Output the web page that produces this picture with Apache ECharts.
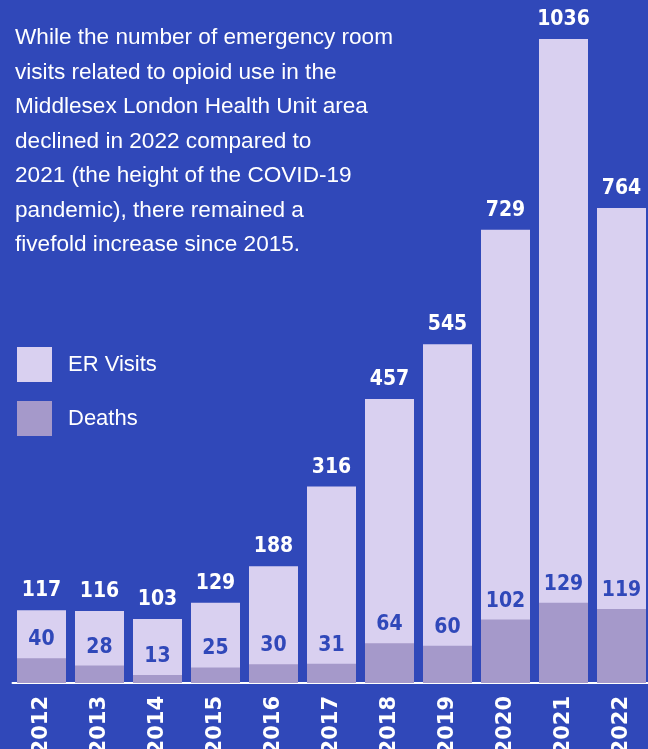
<!DOCTYPE html>
<html>
<head>
<meta charset="utf-8">
<script src="https://cdn.jsdelivr.net/npm/echarts@6/dist/echarts.min.js"></script>
<style>
  html, body { margin: 0; padding: 0; background: #3048b9; }
  #chart { width: 648px; height: 749px; }
</style>
</head>
<body>
<div id="chart"></div>
<script>
const years = ['2012', '2013', '2014', '2015', '2016', '2017', '2018', '2019', '2020', '2021', '2022'];
const erVisits = [117, 116, 103, 129, 188, 316, 457, 545, 729, 1036, 764];
const deaths = [40, 28, 13, 25, 30, 31, 64, 60, 102, 129, 119];

const intro = [
    'While the number of emergency room',
    'visits related to opioid use in the',
    'Middlesex London Health Unit area',
    'declined in 2022 compared to',
    '2021 (the height of the COVID-19',
    'pandemic), there remained a',
    'fivefold increase since 2015.',
];

const blue = '#3048b9';
const numFont = '"DejaVu Sans Condensed", sans-serif';
const textFont = '"Liberation Sans", Arial, sans-serif';

const chart = echarts.init(document.getElementById('chart'));

const option = {
    backgroundColor: blue,
    animation: false,
    title: {
        text: intro.join('\n'),
        left: 15,
        top: 21,
        padding: 0,
        textStyle: {
            color: '#ffffff',
            fontFamily: textFont,
            fontWeight: 'normal',
            fontSize: 22.6,
            lineHeight: 34.5,
        },
    },
    legend: {
        orient: 'vertical',
        left: 17,
        top: 347,
        padding: 0,
        itemWidth: 35,
        itemHeight: 35,
        itemGap: 19,
        icon: 'rect',
        data: ['ER Visits', 'Deaths'],
        textStyle: {
            color: '#ffffff',
            fontFamily: textFont,
            fontSize: 22,
            padding: [3, 0, 0, 11],
        },
    },
    grid: { left: 12.5, width: 638, top: 39, bottom: 66, outerBoundsMode: 'none', containLabel: false },
    xAxis: {
        type: 'category',
        data: years,
        axisTick: { show: false },
        axisLine: { lineStyle: { color: '#ffffff', width: 2 } },
        axisLabel: {
            rotate: 90,
            margin: 13,
            padding: [8, 0, 0, 0],
            color: '#ffffff',
            fontFamily: '"DejaVu Sans"',
            fontWeight: 'bold',
            fontSize: 21,
        },
    },
    yAxis: {
        type: 'value',
        min: 0,
        max: 1036,
        show: false,
        splitLine: { show: false },
    },
    series: [
        {
            name: 'ER Visits',
            type: 'bar',
            data: erVisits,
            barWidth: 49,
            itemStyle: { color: '#d9d0f0' },
            label: {
                show: true,
                position: 'top',
                distance: 9,
                color: '#ffffff',
                fontFamily: numFont,
                fontWeight: 'bold',
                fontSize: 21,
            },
        },
        {
            name: 'Deaths',
            type: 'bar',
            data: deaths,
            barWidth: 49,
            barGap: '-100%',
            itemStyle: { color: '#a599ca' },
            label: {
                show: true,
                position: 'top',
                distance: 8,
                color: blue,
                fontFamily: numFont,
                fontWeight: 'bold',
                fontSize: 21,
            },
        },
    ],
};

chart.setOption(option);
</script>
</body>
</html>
